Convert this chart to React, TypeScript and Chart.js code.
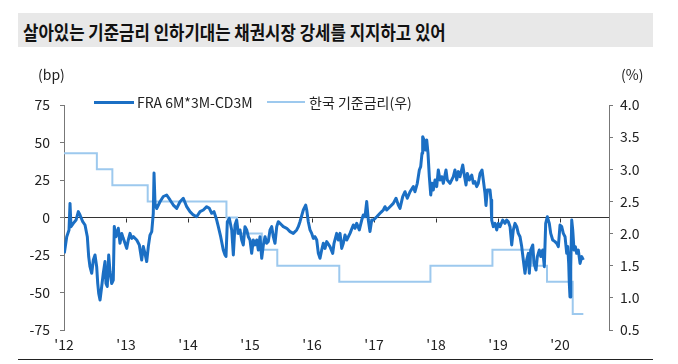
import { useEffect, useRef } from 'react';
import { Chart, registerables } from 'chart.js';

Chart.register(...registerables);

const TITLE = '살아있는 기준금리 인하기대는 채권시장 강세를 지지하고 있어';
const FRA_LABEL = 'FRA 6M*3M-CD3M';
const RATE_LABEL = '한국 기준금리(우)';
const LEFT_UNIT = '(bp)';
const RIGHT_UNIT = '(%)';

const yearTicks = [2012, 2013, 2014, 2015, 2016, 2017, 2018, 2019, 2020];
const yearLabels = ["'12", "'13", "'14", "'15", "'16", "'17", "'18", "'19", "'20"];

// FRA 6M*3M - CD3M (bp)
const fraDates = [
  2012.005, 2012.044, 2012.081, 2012.097, 2012.113, 2012.150, 2012.194, 2012.231, 2012.258, 2012.302,
  2012.339, 2012.376, 2012.398, 2012.419, 2012.447, 2012.473, 2012.500, 2012.527, 2012.544, 2012.560,
  2012.581, 2012.608, 2012.634, 2012.661, 2012.677, 2012.698, 2012.721, 2012.742, 2012.769, 2012.795,
  2012.811, 2012.839, 2012.876, 2012.903, 2012.931, 2012.956, 2012.984, 2013.011, 2013.037, 2013.065,
  2013.092, 2013.118, 2013.173, 2013.215, 2013.253, 2013.279, 2013.306, 2013.334, 2013.360, 2013.387,
  2013.415, 2013.440, 2013.452, 2013.468,
  2013.495, 2013.548, 2013.602, 2013.656, 2013.710, 2013.763, 2013.818, 2013.871, 2013.924, 2013.979,
  2014.032, 2014.085,
  2014.140, 2014.194, 2014.247, 2014.302, 2014.344, 2014.382, 2014.419, 2014.463, 2014.489, 2014.527,
  2014.569, 2014.597, 2014.613, 2014.634, 2014.666, 2014.705, 2014.731, 2014.758, 2014.785, 2014.811,
  2014.839, 2014.866, 2014.892, 2014.919, 2014.947, 2014.973, 2015.000, 2015.027, 2015.053, 2015.081,
  2015.108, 2015.134, 2015.161, 2015.189, 2015.215, 2015.242, 2015.269, 2015.295, 2015.323, 2015.350,
  2015.376, 2015.403, 2015.431, 2015.456, 2015.484, 2015.511, 2015.537, 2015.592, 2015.645, 2015.698,
  2015.753, 2015.779, 2015.806, 2015.860, 2015.898, 2015.915, 2015.940, 2015.968, 2015.995, 2016.021,
  2016.048, 2016.076, 2016.102, 2016.129, 2016.156, 2016.182,
  2016.210, 2016.237, 2016.290, 2016.334, 2016.355, 2016.398, 2016.424, 2016.452, 2016.479, 2016.505,
  2016.532, 2016.560, 2016.613, 2016.666, 2016.694, 2016.721, 2016.763, 2016.802, 2016.827, 2016.855,
  2016.882, 2016.908, 2016.935, 2016.963, 2016.989, 2017.044, 2017.097, 2017.124, 2017.150, 2017.177,
  2017.205, 2017.258, 2017.311, 2017.355, 2017.392, 2017.419, 2017.463, 2017.500, 2017.537, 2017.581,
  2017.634, 2017.661, 2017.698, 2017.731, 2017.753, 2017.774, 2017.785, 2017.806, 2017.827, 2017.850,
  2017.871, 2017.892, 2017.915, 2017.935, 2017.956, 2017.984, 2018.011, 2018.037, 2018.065, 2018.092,
  2018.118, 2018.161, 2018.182,
  2018.226, 2018.279, 2018.306, 2018.334, 2018.360, 2018.387, 2018.431, 2018.452, 2018.484, 2018.505,
  2018.537, 2018.576, 2018.602, 2018.629, 2018.656, 2018.682, 2018.710, 2018.742, 2018.763, 2018.790,
  2018.806, 2018.827, 2018.871, 2018.887, 2018.898, 2018.924, 2018.952, 2018.979, 2019.005, 2019.032,
  2019.076, 2019.113, 2019.140, 2019.166, 2019.194, 2019.221, 2019.247, 2019.274, 2019.302, 2019.327,
  2019.355, 2019.382, 2019.408, 2019.435, 2019.463, 2019.489, 2019.505, 2019.527, 2019.560, 2019.581,
  2019.613, 2019.634, 2019.666, 2019.689, 2019.721, 2019.747, 2019.769, 2019.795, 2019.827, 2019.850,
  2019.882, 2019.919, 2019.947, 2019.973, 2020.000, 2020.027, 2020.053, 2020.081, 2020.108, 2020.124,
  2020.140, 2020.150, 2020.161, 2020.173, 2020.189, 2020.205, 2020.226, 2020.247, 2020.269, 2020.295,
  2020.323, 2020.350, 2020.376,
];
const fraValues = [
  -23.9, -12.8, -8.3, 9.4, -6.1, -3.9, -1.7, 3.9, 1.7, -2.8,
  -5, -12.8, -26, -32.8, -37.2, -28.3, -25, -32.8, -43.9, -50.6,
  -55, -46, -37, -29.4, -43.9, -46, -25, -36, -44, -41.7,
  -6, -12.8, -7.2, -17.2, -10.6, -13.9, -17.2, -20.6, -15, -10.6,
  -13.9, -12.8, -15, -18.3, -28.3, -19.4, -23.9, -29.4, -19.4, -11.7,
  -9.4, 2.8, 29.6, 9.4,
  6, 10.5, 14, 15, 11.7, 8.3, 6.1, 10.5, 12.8, 7.2,
  3.9, 1.7,
  0.5, 3.9, 5, 7.2, 6.1, 2.8, 3.9, -1.7, -6.1, -12.8,
  -21.7, -25, -26, -2.8, -0.5, -8.3, -25, -5, -1.7, -10.6,
  -8.3, -15, -18.3, -6.1, -8.3, -12.8, -15, -23.9, -15, -18.3,
  -15, -21.7, -12.8, -27.2, -18.3, -12.8, -17.2, -16, -8.3, -6.1,
  -12.8, -17.2, -6.1, -2.8, -3.9, -5, -6.1, -7.2, -9.4, -10.6,
  -8.3, -6.1, -2.8, 5, 8.3, 5, -2.8, -8.3, -10.6, -13.9,
  -12.8, -15, -23.9, -27.2, -21.7, -17.2,
  -20.6, -16.1, -19.4, -23.9, -17.2, -10.6, -15, -10.6, -20.6, -17.2,
  -11.7, -15, -10.6, -5, -7.2, -3.9, -8.3, -1.7, 1.7, 0.5,
  10.6, -1.7, -9.4, -1.7, -1.7, 0.5, 2.8, 3.9, 5, 7.2,
  5, 7.2, 9.4, 12.8, 8.3, 6.1, 13.9, 17.2, 12.8, 17.2,
  20.6, 17.2, 22.8, 31.7, 33.9, 42.8, 53.9, 51.7, 45, 51.7,
  42.8, 27.2, 15, 22.8, 18.3, 25, 20.6, 31.7, 25, 27.2,
  22.8, 31.7, 25,
  22.8, 27.2, 31.7, 25, 30.6, 27.2, 35, 29.4, 21.7, 29.4,
  25, 28.3, 22.8, 23.9, 20.6, 22.8, 29.4, 31.7, 25, 16.1,
  8, 18.3, 18.3, 11.7, -1.7, -6.1, -3.9, -8.3, -3.9, -6.1,
  -1.7, -3.9, -1.7, -2.8, -6.1, -18.3, -8.3, -3.9, -6.1, -10.6,
  -12.8, -19.4, -28.3, -37.2, -28.3, -23.9, -37.2, -21.7, -18.3, -30.6,
  -35, -26.1, -21.7, -26, -21.7, -32.8, -3.9, 0.5, -3.9, -10.6,
  -15, -16.1, -17.2, -19.4, -5, -6.1, -10.6, -12.8, -23.9, -19.4,
  -30.6, -43.9, -53, -32.8, -1.7, -8.3, -21.7, -19.4, -23.9, -21.7,
  -30.6, -26.1, -28.3,
];

// Korea base rate (%), change dates
const rateDates = [2012.0, 2012.53, 2012.78, 2013.35, 2014.62, 2014.79, 2015.19, 2015.44, 2016.44, 2017.91, 2018.91, 2019.54, 2019.79, 2020.205, 2020.376];
const rateValues = [3.25, 3.0, 2.75, 2.5, 2.25, 2.0, 1.75, 1.5, 1.25, 1.5, 1.75, 1.5, 1.25, 0.75, 0.75];

const FRA_COLOR = '#1b6fc4';
const RATE_COLOR = '#9dc9ee';
const TEXT_COLOR = '#222';
const AXIS_COLOR = '#777';
const FONT = '"Noto Sans CJK KR", "Noto Sans", sans-serif';

const zeroTicks = {
  id: 'zeroTicks',
  beforeDatasetsDraw(chart: any) {
    const { ctx, scales } = chart;
    const x = scales.x;
    const y = scales.y;
    const y0 = Math.round(y.getPixelForValue(0)) + 0.5;
    ctx.save();
    ctx.strokeStyle = '#333';
    ctx.lineWidth = 1;
    yearTicks.forEach((v) => {
      if (v === yearTicks[0]) return;
      const px = Math.round(x.getPixelForValue(v)) + 0.5;
      ctx.beginPath();
      ctx.moveTo(px, y0);
      ctx.lineTo(px, y0 + 4);
      ctx.stroke();
    });
    ctx.restore();
  },
};

export default function App() {
  const ref = useRef<HTMLCanvasElement>(null);

  useEffect(() => {
    document.body.style.margin = '0';
    const canvas = ref.current!;
    const chart = new Chart(canvas, {
      type: 'line',
      data: {
        datasets: [
          {
            label: FRA_LABEL,
            data: fraDates.map((d, i) => ({ x: d, y: fraValues[i] })),
            borderColor: FRA_COLOR,
            backgroundColor: FRA_COLOR,
            borderWidth: 3,
            pointRadius: 0,
            tension: 0,
            borderJoinStyle: 'round',
            yAxisID: 'y',
          },
          {
            label: RATE_LABEL,
            data: rateDates.map((d, i) => ({ x: d, y: rateValues[i] })),
            borderColor: RATE_COLOR,
            backgroundColor: RATE_COLOR,
            borderWidth: 2,
            pointRadius: 0,
            stepped: true,
            yAxisID: 'y2',
          },
        ],
      },
      options: {
        animation: false,
        responsive: false,
        devicePixelRatio: 1,
        layout: { padding: { top: 105, left: 0, right: 0, bottom: 0 } },
        plugins: { legend: { display: false }, tooltip: { enabled: false } },
        scales: {
          x: {
            type: 'linear',
            min: 2012,
            max: 2020.79,
            afterBuildTicks: (s: any) => {
              s.ticks = yearTicks.map((v) => ({ value: v }));
            },
            ticks: {
              autoSkip: false,
              maxRotation: 0,
              padding: 6,
              color: TEXT_COLOR,
              font: { family: FONT, size: 14 },
              callback: (v: any) => yearLabels[yearTicks.indexOf(Number(v))] ?? '',
            },
            grid: { display: false, drawTicks: false },
            border: { display: false },
            afterFit: (s: any) => {
              s.height = 34;
            },
          },
          y: {
            position: 'left',
            min: -75,
            max: 75,
            ticks: {
              stepSize: 25,
              padding: 10,
              color: TEXT_COLOR,
              font: { family: FONT, size: 14 },
            },
            grid: {
              color: (c: any) => (c.tick && c.tick.value === 0 ? '#333' : 'rgba(0,0,0,0)'),
              tickColor: AXIS_COLOR,
              tickLength: 4,
              lineWidth: 1,
            },
            border: { color: AXIS_COLOR, width: 1 },
            afterFit: (s: any) => {
              s.width = 64;
            },
          },
          y2: {
            position: 'right',
            min: 0.5,
            max: 4.0,
            ticks: {
              stepSize: 0.5,
              padding: 7,
              color: TEXT_COLOR,
              font: { family: FONT, size: 14 },
              callback: (v: any) => Number(v).toFixed(1),
            },
            grid: { drawOnChartArea: false, tickColor: AXIS_COLOR, tickLength: 4 },
            border: { color: AXIS_COLOR, width: 1 },
            afterFit: (s: any) => {
              s.width = 69;
            },
          },
        },
      },
      plugins: [zeroTicks],
    } as any);
    return () => chart.destroy();
  }, []);

  const textStyle: any = {
    position: 'absolute',
    fontFamily: FONT,
    fontSize: 14,
    lineHeight: '14px',
    color: TEXT_COLOR,
    whiteSpace: 'nowrap',
  };

  return (
    <div style={{ position: 'fixed', left: 0, top: 0, width: 678, height: 364, background: '#fff', overflow: 'hidden' }}>
      <div style={{ position: 'absolute', left: 18, top: 13, width: 635, height: 34, background: '#e8e8e8' }}>
        <span
          style={{
            position: 'absolute',
            left: 5,
            top: 18,
            transform: 'translateY(-50%) scaleX(0.88)',
            transformOrigin: 'left center',
            fontFamily: FONT,
            fontWeight: 700,
            fontSize: 19,
            lineHeight: '19px',
            color: '#111',
            whiteSpace: 'nowrap',
          }}
        >
          {TITLE}
        </span>
      </div>
      <canvas ref={ref} width={678} height={364} style={{ position: 'absolute', left: 0, top: 0, width: 678, height: 364 }} />
      <div style={{ ...textStyle, left: 38, top: 67 }}>{LEFT_UNIT}</div>
      <div style={{ ...textStyle, left: 621, top: 67 }}>{RIGHT_UNIT}</div>
      <div style={{ position: 'absolute', left: 94, top: 101, width: 40, height: 3, background: FRA_COLOR }} />
      <div style={{ ...textStyle, left: 137, top: 95 }}>{FRA_LABEL}</div>
      <div style={{ position: 'absolute', left: 267, top: 101, width: 38, height: 2, background: RATE_COLOR }} />
      <div style={{ ...textStyle, left: 309, top: 95 }}>{RATE_LABEL}</div>
      <div style={{ position: 'absolute', left: 18, top: 359, width: 635, height: 1, background: '#222' }} />
    </div>
  );
}
